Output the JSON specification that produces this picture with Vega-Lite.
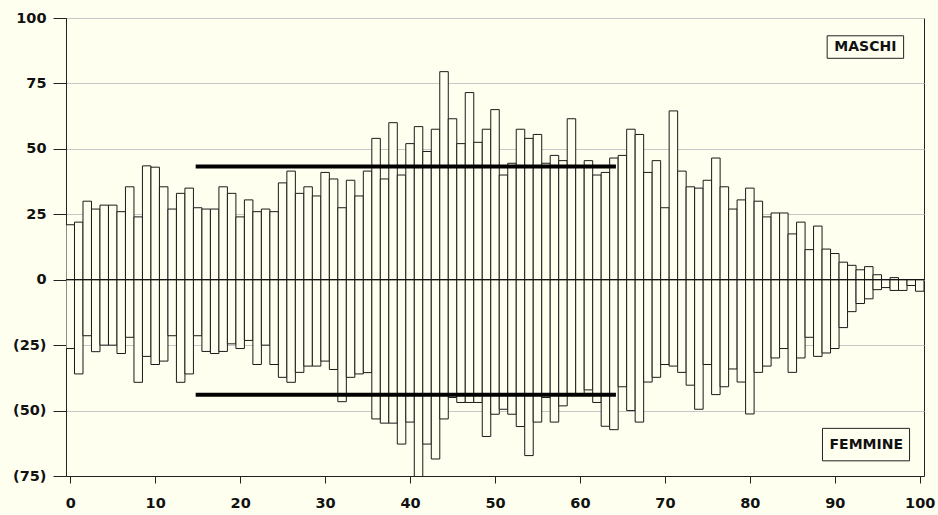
{
  "$schema": "https://vega.github.io/schema/vega-lite/v6.json",
  "width": 858,
  "height": 458,
  "autosize": "none",
  "padding": {"left": 66, "top": 18, "right": 14, "bottom": 39},
  "background": "#FFFFF0",
  "config": {
    "view": {"stroke": "#222", "strokeWidth": 1, "fill": "#FFFFF0"},
    "font": "DejaVu Sans"
  },
  "datasets": {
    "pop": [
      {"age":0,"maschi":21,"femmine":-26.3},{"age":1,"maschi":22,"femmine":-36},{"age":2,"maschi":30,"femmine":-21.4},{"age":3,"maschi":27,"femmine":-27.5},{"age":4,"maschi":28.5,"femmine":-25},
      {"age":5,"maschi":28.5,"femmine":-25},{"age":6,"maschi":26,"femmine":-28.2},{"age":7,"maschi":35.5,"femmine":-22},{"age":8,"maschi":24,"femmine":-39.2},{"age":9,"maschi":43.5,"femmine":-29.3},
      {"age":10,"maschi":43,"femmine":-32.4},{"age":11,"maschi":35.5,"femmine":-31.1},{"age":12,"maschi":27,"femmine":-21.4},{"age":13,"maschi":33,"femmine":-39.2},{"age":14,"maschi":35,"femmine":-36},
      {"age":15,"maschi":27.5,"femmine":-21.4},{"age":16,"maschi":27,"femmine":-27.4},{"age":17,"maschi":27,"femmine":-28.2},{"age":18,"maschi":35.5,"femmine":-27.4},{"age":19,"maschi":33,"femmine":-24.5},
      {"age":20,"maschi":24,"femmine":-26.3},{"age":21,"maschi":30.5,"femmine":-23.2},{"age":22,"maschi":26,"femmine":-32.4},{"age":23,"maschi":27,"femmine":-25},{"age":24,"maschi":26,"femmine":-32.4},
      {"age":25,"maschi":37,"femmine":-37.3},{"age":26,"maschi":41.5,"femmine":-39.2},{"age":27,"maschi":33,"femmine":-35.4},{"age":28,"maschi":35.5,"femmine":-33},{"age":29,"maschi":32,"femmine":-33},
      {"age":30,"maschi":41,"femmine":-31.1},{"age":31,"maschi":38.5,"femmine":-34.3},{"age":32,"maschi":27.5,"femmine":-46.6},{"age":33,"maschi":38,"femmine":-37.3},{"age":34,"maschi":32,"femmine":-36},
      {"age":35,"maschi":41.5,"femmine":-35.5},{"age":36,"maschi":54,"femmine":-53.2},{"age":37,"maschi":38.5,"femmine":-54.8},{"age":38,"maschi":60,"femmine":-54.8},{"age":39,"maschi":40,"femmine":-62.8},
      {"age":40,"maschi":52,"femmine":-54.4},{"age":41,"maschi":58.5,"femmine":-80},{"age":42,"maschi":49,"femmine":-62.8},{"age":43,"maschi":57.5,"femmine":-68.5},{"age":44,"maschi":79.5,"femmine":-53.2},
      {"age":45,"maschi":61.5,"femmine":-45},{"age":46,"maschi":52,"femmine":-46.9},{"age":47,"maschi":71.5,"femmine":-46.9},{"age":48,"maschi":52.5,"femmine":-46.9},{"age":49,"maschi":57.5,"femmine":-59.9},
      {"age":50,"maschi":65,"femmine":-51.4},{"age":51,"maschi":40,"femmine":-49.5},{"age":52,"maschi":44.5,"femmine":-51.4},{"age":53,"maschi":57.5,"femmine":-56.1},{"age":54,"maschi":54,"femmine":-67.2},
      {"age":55,"maschi":55.5,"femmine":-54.4},{"age":56,"maschi":44.5,"femmine":-45},{"age":57,"maschi":47.5,"femmine":-54.4},{"age":58,"maschi":45.5,"femmine":-48.2},{"age":59,"maschi":61.5,"femmine":-44},
      {"age":60,"maschi":43.3,"femmine":-44},{"age":61,"maschi":45.5,"femmine":-42.1},{"age":62,"maschi":40,"femmine":-46.9},{"age":63,"maschi":41,"femmine":-56},{"age":64,"maschi":46.5,"femmine":-57.3},
      {"age":65,"maschi":47.5,"femmine":-40.9},{"age":66,"maschi":57.5,"femmine":-50},{"age":67,"maschi":55.5,"femmine":-54.4},{"age":68,"maschi":41,"femmine":-39.1},{"age":69,"maschi":45.5,"femmine":-37.3},
      {"age":70,"maschi":27.5,"femmine":-32.4},{"age":71,"maschi":64.5,"femmine":-33},{"age":72,"maschi":41.5,"femmine":-35.4},{"age":73,"maschi":35.5,"femmine":-40.3},{"age":74,"maschi":35,"femmine":-49.5},
      {"age":75,"maschi":38,"femmine":-32.4},{"age":76,"maschi":46.5,"femmine":-43.9},{"age":77,"maschi":35.5,"femmine":-40.9},{"age":78,"maschi":27,"femmine":-34.1},{"age":79,"maschi":30.5,"femmine":-39.1},
      {"age":80,"maschi":35,"femmine":-51.3},{"age":81,"maschi":30,"femmine":-35.4},{"age":82,"maschi":24,"femmine":-33},{"age":83,"maschi":25.5,"femmine":-29.9},{"age":84,"maschi":25.5,"femmine":-26.3},
      {"age":85,"maschi":17.5,"femmine":-35.4},{"age":86,"maschi":22,"femmine":-29.9},{"age":87,"maschi":11.5,"femmine":-22},{"age":88,"maschi":20.5,"femmine":-29.3},{"age":89,"maschi":11.7,"femmine":-28},
      {"age":90,"maschi":10,"femmine":-26.3},{"age":91,"maschi":6.7,"femmine":-18.3},{"age":92,"maschi":5.5,"femmine":-12.2},{"age":93,"maschi":3.8,"femmine":-9.1},{"age":94,"maschi":5,"femmine":-7.3},
      {"age":95,"maschi":1.9,"femmine":-3.8},{"age":96,"maschi":0,"femmine":-3},{"age":97,"maschi":0.8,"femmine":-4.1},{"age":98,"maschi":0,"femmine":-4.1},{"age":99,"maschi":0,"femmine":-2.2},
      {"age":100,"maschi":0,"femmine":-4.4}
    ],
    "medie": [
      {"da": 15, "a": 64, "valore": 43.3},
      {"da": 15, "a": 64, "valore": -44}
    ],
    "zero": [{"valore": 0}],
    "etichette": [
      {"label": "MASCHI", "x0": 89.1, "x1": 98.1, "y0": 84.6, "y1": 93.2, "xc": 93.6, "yc": 88.9},
      {"label": "FEMMINE", "x0": 88.55, "x1": 98.8, "y0": -69.2, "y1": -56.8, "xc": 93.7, "yc": -63.0}
    ]
  },
  "layer": [
    {
      "data": {"name": "pop"},
      "mark": {"type": "bar", "width": 8.5, "fill": "#FFFFF0", "stroke": "#1a1a1a", "strokeWidth": 1, "clip": true},
      "encoding": {
        "x": {
          "field": "age", "type": "quantitative",
          "scale": {"domain": [-0.5, 100.5], "nice": false, "zero": false, "padding": 0},
          "axis": {
            "title": null, "values": [0,10,20,30,40,50,60,70,80,90,100], "grid": false,
            "tickSize": 7, "tickColor": "#222", "domainColor": "#222",
            "labelFont": "DejaVu Sans", "labelFontWeight": "bold", "labelFontSize": 14.5, "labelColor": "#111",
            "labelPadding": 13, "labelFlush": false
          }
        },
        "y": {
          "field": "maschi", "type": "quantitative",
          "scale": {"domain": [-75, 100], "nice": false, "padding": 0},
          "axis": {
            "title": null, "values": [-75,-50,-25,0,25,50,75,100], "grid": true, "gridColor": "#c8c8c8", "gridWidth": 1,
            "tickSize": 13, "tickColor": "#222", "domainColor": "#222",
            "labelFont": "DejaVu Sans", "labelFontWeight": "bold", "labelFontSize": 14.5, "labelColor": "#111",
            "labelPadding": 7,
            "labelExpr": "datum.value < 0 ? '(' + (-datum.value) + ')' : '' + datum.value"
          }
        }
      }
    },
    {
      "data": {"name": "pop"},
      "mark": {"type": "bar", "width": 8.5, "fill": "#FFFFF0", "stroke": "#1a1a1a", "strokeWidth": 1, "clip": true},
      "encoding": {
        "x": {"field": "age", "type": "quantitative"},
        "y": {"field": "femmine", "type": "quantitative"}
      }
    },
    {
      "data": {"name": "zero"},
      "mark": {"type": "rule", "color": "#111", "strokeWidth": 1},
      "encoding": {"y": {"field": "valore", "type": "quantitative"}}
    },
    {
      "data": {"name": "medie"},
      "mark": {"type": "rule", "color": "#000", "strokeWidth": 4, "strokeCap": "square"},
      "encoding": {
        "x": {"field": "da", "type": "quantitative"},
        "x2": {"field": "a"},
        "y": {"field": "valore", "type": "quantitative"}
      }
    },
    {
      "data": {"name": "etichette"},
      "mark": {"type": "rect", "fill": "#FFFFF0", "stroke": "#222", "strokeWidth": 1},
      "encoding": {
        "x": {"field": "x0", "type": "quantitative"},
        "x2": {"field": "x1"},
        "y": {"field": "y0", "type": "quantitative"},
        "y2": {"field": "y1"}
      }
    },
    {
      "data": {"name": "etichette"},
      "mark": {"type": "text", "font": "DejaVu Sans", "fontWeight": "bold", "fontSize": 14, "color": "#111", "align": "center", "baseline": "middle"},
      "encoding": {
        "x": {"field": "xc", "type": "quantitative"},
        "y": {"field": "yc", "type": "quantitative"},
        "text": {"field": "label"}
      }
    }
  ]
}
